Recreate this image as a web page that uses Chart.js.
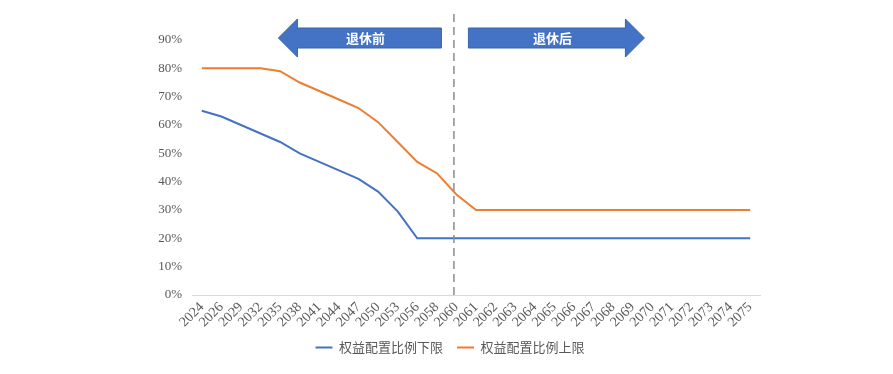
<!DOCTYPE html>
<html>
<head>
<meta charset="utf-8">
<script src="https://cdn.jsdelivr.net/npm/chart.js@4/dist/chart.umd.min.js"></script>
<style>
  html, body { margin: 0; padding: 0; background: #fff; }
  #wrap { width: 893px; height: 374px; }
</style>
</head>
<body>
<div id="wrap"><canvas id="peiZhiChart"></canvas></div>
<script>
// 年份
const years = ['2024', '2026', '2029', '2032', '2035', '2038', '2041', '2044', '2047', '2050',
  '2053', '2056', '2058', '2060', '2061', '2062', '2063', '2064', '2065', '2066', '2067',
  '2068', '2069', '2070', '2071', '2072', '2073', '2074', '2075'];
// 权益配置比例下限 (%)
const lowerLimit = [65, 63, 60, 57, 54, 50, 47, 44, 41, 36.5, 29.5, 20, 20, 20, 20, 20, 20,
  20, 20, 20, 20, 20, 20, 20, 20, 20, 20, 20, 20];
// 权益配置比例上限 (%)
const upperLimit = [80, 80, 80, 80, 79, 75, 72, 69, 66, 61, 54, 47, 43, 35.5, 30, 30, 30,
  30, 30, 30, 30, 30, 30, 30, 30, 30, 30, 30, 30];
const retireYear = '2060';
const yTicks = [0, 10, 20, 30, 40, 50, 60, 70, 80, 90];

const serifFont = '"Liberation Serif", "Noto Sans CJK SC", serif';

// 退休前 / 退休后 箭头和虚线
const retirePlugin = {
  id: 'retireMarks',
  afterDatasetsDraw(chart) {
    const ctx = chart.ctx;
    const x0 = chart.scales.x.getPixelForValue(years.indexOf(retireYear)) - 2.5;
    const bottom = chart.chartArea.bottom;
    ctx.save();
    // 虚线
    ctx.strokeStyle = '#8c8c8c';
    ctx.lineWidth = 1.5;
    ctx.setLineDash([8, 5]);
    ctx.beginPath();
    ctx.moveTo(x0, 14);
    ctx.lineTo(x0, bottom);
    ctx.stroke();
    ctx.setLineDash([]);

    const drawArrow = (pts) => {
      ctx.beginPath();
      ctx.moveTo(pts[0][0], pts[0][1]);
      for (let i = 1; i < pts.length; i++) ctx.lineTo(pts[i][0], pts[i][1]);
      ctx.closePath();
      ctx.fillStyle = '#4472C4';
      ctx.fill();
      ctx.strokeStyle = '#3a62ab';
      ctx.lineWidth = 1;
      ctx.stroke();
    };
    const bt = 28, bb = 48, ht = 19, hb = 57, my = 38;
    // 左箭头
    drawArrow([[x0 - 12.5, bt], [x0 - 156.5, bt], [x0 - 156.5, ht], [x0 - 175.5, my],
      [x0 - 156.5, hb], [x0 - 156.5, bb], [x0 - 12.5, bb]]);
    // 右箭头
    drawArrow([[x0 + 14.5, bt], [x0 + 171.5, bt], [x0 + 171.5, ht], [x0 + 190.5, my],
      [x0 + 171.5, hb], [x0 + 171.5, bb], [x0 + 14.5, bb]]);

    ctx.fillStyle = '#ffffff';
    ctx.font = 'bold 13px "Noto Sans CJK SC", sans-serif';
    ctx.textAlign = 'center';
    ctx.textBaseline = 'middle';
    ctx.fillText('退休前', x0 - 88.5, my);
    ctx.fillText('退休后', x0 + 98.5, my);
    ctx.restore();
  }
};

new Chart(document.getElementById('peiZhiChart').getContext('2d'), {
  type: 'line',
  data: {
    labels: years,
    datasets: [
      {
        label: '权益配置比例下限',
        data: lowerLimit,
        borderColor: '#4472C4',
        backgroundColor: '#4472C4',
        borderWidth: 2,
        pointRadius: 0,
        tension: 0
      },
      {
        label: '权益配置比例上限',
        data: upperLimit,
        borderColor: '#ED7D31',
        backgroundColor: '#ED7D31',
        borderWidth: 2,
        pointRadius: 0,
        tension: 0
      }
    ]
  },
  options: {
    responsive: true,
    maintainAspectRatio: false,
    animation: false,
    layout: { padding: { left: 140, right: 133, top: 40, bottom: 10 } },
    plugins: {
      tooltip: { enabled: false },
      legend: {
        position: 'bottom',
        labels: {
          usePointStyle: true,
          pointStyle: 'line',
          pointStyleWidth: 17,
          boxHeight: 8,
          padding: 14,
          color: '#595959',
          font: { family: '"Noto Sans CJK SC", sans-serif', size: 13 }
        }
      }
    },
    scales: {
      x: {
        offset: true,
        grid: { display: false, drawTicks: false },
        border: { display: true, color: '#d9d9d9', width: 1 },
        ticks: {
          autoSkip: false,
          minRotation: 45,
          maxRotation: 45,
          color: '#595959',
          font: { family: serifFont, size: 14 },
          padding: 4
        },
        afterFit(scale) { scale.height = 32; }
      },
      y: {
        min: 0,
        max: 90,
        afterBuildTicks(scale) { scale.ticks = yTicks.map(v => ({ value: v })); },
        grid: { display: false, drawTicks: false },
        border: { display: false },
        ticks: {
          color: '#595959',
          font: { family: serifFont, size: 13 },
          padding: 10,
          callback: v => v + '%'
        },
        afterFit(scale) { scale.width = 52; }
      }
    }
  },
  plugins: [retirePlugin]
});
</script>
</body>
</html>
